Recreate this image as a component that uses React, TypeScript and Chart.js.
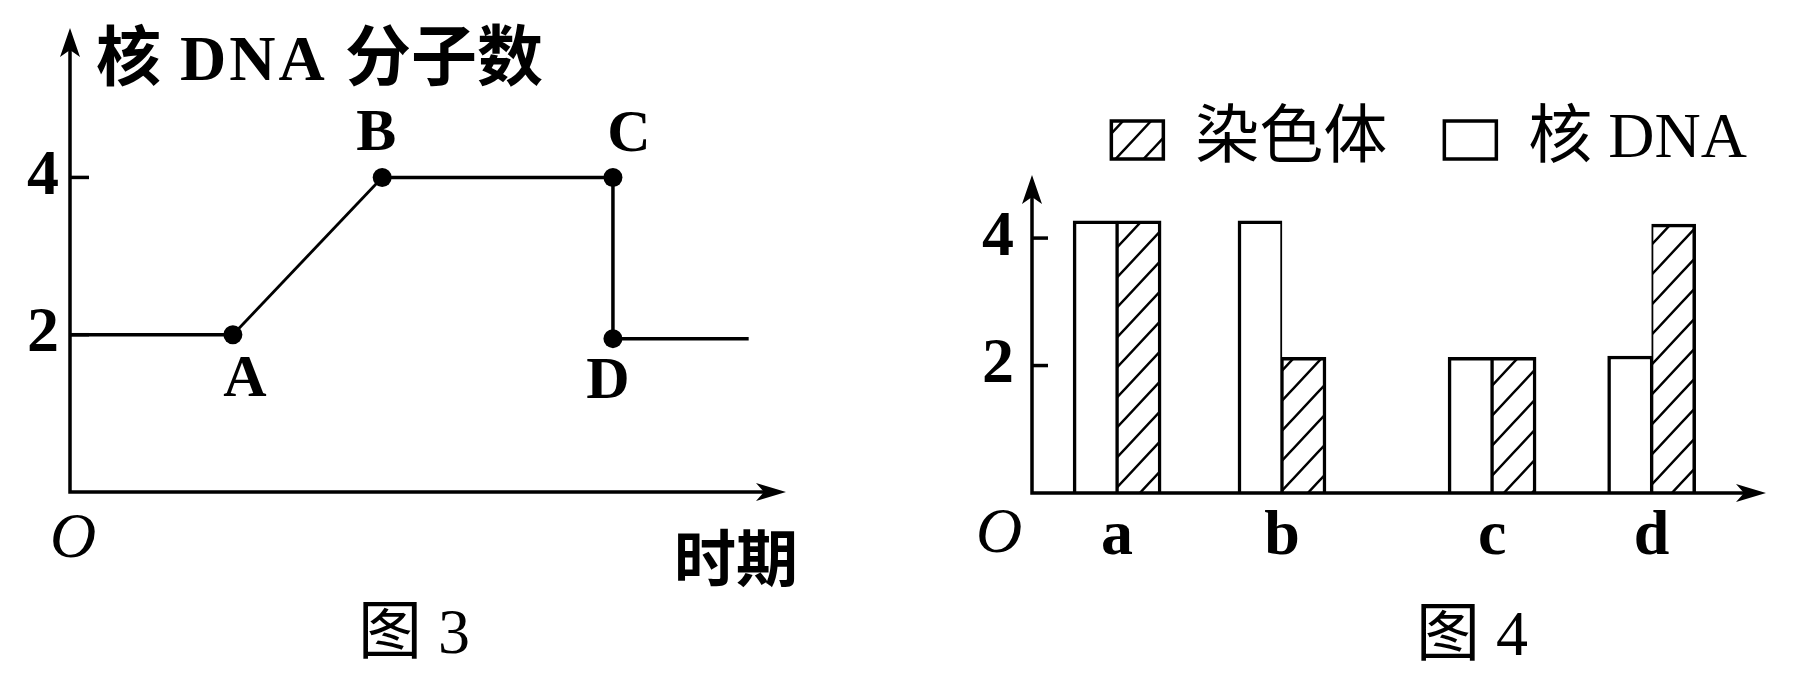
import React, { useEffect, useRef } from 'react';
import { Chart, registerables } from 'chart.js';

Chart.register(...registerables);

// ---------- 图 3 : 核 DNA 分子数 随 时期 变化 ----------
const fig3Time = [0, 2.4, 4.6, 8, 8, 10];
const fig3Dna = [2, 2, 4, 4, 1.95, 1.95];
const fig3PointLabels = ['', 'A', 'B', 'C', 'D', ''];
const fig3YTicks = [2, 4];
const fig3TitleParts = ['核', 'DNA', '分子数'];
const fig3XTitle = '时期';
const fig3Caption = '图 3';

// ---------- 图 4 : 染色体 与 核 DNA ----------
const fig4Stages = ['a', 'b', 'c', 'd'];
const fig4StagePos = [1.6, 4.7, 8.65, 11.65];
const fig4Dna = [4.27, 4.27, 2.13, 2.15];
const fig4Chromosome = [4.27, 2.13, 2.13, 4.22];
const fig4YTicks = [2, 4];
const fig4SeriesNames = ['核 DNA', '染色体'];
const fig4Caption = '图 4';

const SERIF = "'Liberation Serif', 'Noto Sans CJK SC', serif";
const CJK = "'Noto Sans CJK SC', 'Liberation Serif', sans-serif";

function arrowUp(ctx: CanvasRenderingContext2D, x: number, tipY: number) {
  ctx.beginPath();
  ctx.moveTo(x, tipY);
  ctx.lineTo(x - 10, tipY + 29);
  ctx.lineTo(x, tipY + 22);
  ctx.lineTo(x + 10, tipY + 29);
  ctx.closePath();
  ctx.fill();
}

function arrowRight(ctx: CanvasRenderingContext2D, tipX: number, y: number) {
  ctx.beginPath();
  ctx.moveTo(tipX, y);
  ctx.lineTo(tipX - 30, y - 9);
  ctx.lineTo(tipX - 22, y);
  ctx.lineTo(tipX - 30, y + 9);
  ctx.closePath();
  ctx.fill();
}

function drawAxes(chart: any, tickLen: number, topExtra: number) {
  const ctx: CanvasRenderingContext2D = chart.ctx;
  const { left, right, top, bottom } = chart.chartArea;
  const tipY = top - topExtra;
  ctx.save();
  ctx.strokeStyle = '#000';
  ctx.fillStyle = '#000';
  ctx.lineWidth = 3.5;
  ctx.lineJoin = 'miter';
  ctx.beginPath();
  ctx.moveTo(left, tipY + 20);
  ctx.lineTo(left, bottom);
  ctx.lineTo(right - 20, bottom);
  ctx.stroke();
  arrowUp(ctx, left, tipY);
  arrowRight(ctx, right, bottom);
  const ys = chart.scales.y;
  ys.ticks.forEach((t: any) => {
    const py = ys.getPixelForValue(t.value);
    ctx.beginPath();
    ctx.moveTo(left, py);
    ctx.lineTo(left + tickLen, py);
    ctx.stroke();
  });
  ctx.restore();
}

function text(
  ctx: CanvasRenderingContext2D,
  s: string,
  x: number,
  y: number,
  font: string,
  align: CanvasTextAlign,
  baseline: CanvasTextBaseline,
  spacing = 0
) {
  ctx.save();
  ctx.fillStyle = '#000';
  ctx.font = font;
  ctx.textAlign = align;
  ctx.textBaseline = baseline;
  if (spacing) (ctx as any).letterSpacing = `${spacing}px`;
  ctx.fillText(s, x, y);
  ctx.restore();
}

const labelOffsets: Record<string, [number, number]> = {
  A: [12, 46],
  B: [-6, -43],
  C: [16, -42],
  D: [-5, 44],
};

const fig3Plugin = {
  id: 'fig3Decor',
  afterDraw(chart: any) {
    const ctx: CanvasRenderingContext2D = chart.ctx;
    drawAxes(chart, 19, 0);
    const meta = chart.getDatasetMeta(0);
    meta.data.forEach((pt: any, i: number) => {
      const lab = fig3PointLabels[i];
      if (!lab) return;
      const off = labelOffsets[lab];
      text(ctx, lab, pt.x + off[0], pt.y + off[1], `bold 60px ${SERIF}`, 'center', 'middle');
    });
    const { left, bottom } = chart.chartArea;
    text(ctx, fig3TitleParts[0], 96, 80, `bold 65px ${CJK}`, 'left', 'alphabetic');
    text(ctx, fig3TitleParts[1], 180, 80, `bold 64px ${SERIF}`, 'left', 'alphabetic', 3);
    text(ctx, fig3TitleParts[2], 345, 80, `bold 66px ${CJK}`, 'left', 'alphabetic');
    text(ctx, 'O', left + 3, bottom + 48, `italic 64px ${SERIF}`, 'center', 'middle');
    text(ctx, fig3XTitle, 674, 558, `bold 62px ${CJK}`, 'left', 'middle');
    text(ctx, fig3Caption, 414, 636, `64px ${SERIF}`, 'center', 'middle');
  },
};

const fig4Plugin = {
  id: 'fig4Decor',
  afterDraw(chart: any) {
    const ctx: CanvasRenderingContext2D = chart.ctx;
    drawAxes(chart, 16, 7);
    const { left, bottom } = chart.chartArea;
    text(ctx, 'O', left - 33, bottom + 42, `italic 64px ${SERIF}`, 'center', 'middle');
    text(ctx, fig4Caption, 572, 638, `64px ${SERIF}`, 'center', 'middle');
  },
};

function makeHatch(): CanvasPattern | string {
  const w = 28;
  const h = 30;
  const c = document.createElement('canvas');
  c.width = w;
  c.height = h;
  const g = c.getContext('2d');
  if (!g) return '#fff';
  g.fillStyle = '#fff';
  g.fillRect(0, 0, w, h);
  g.strokeStyle = '#000';
  g.lineWidth = 2.5;
  g.beginPath();
  g.moveTo(-w * 0.1, h * 1.1);
  g.lineTo(w * 1.1, -h * 0.1);
  g.moveTo(-w * 0.1, h * 0.1);
  g.lineTo(w * 0.1, -h * 0.1);
  g.moveTo(w * 0.9, h * 1.1);
  g.lineTo(w * 1.1, h * 0.9);
  g.stroke();
  return g.createPattern(c, 'repeat') || '#fff';
}

export default function App() {
  const ref3 = useRef<HTMLCanvasElement>(null);
  const ref4 = useRef<HTMLCanvasElement>(null);

  useEffect(() => {
    const c3 = new Chart(ref3.current as HTMLCanvasElement, {
      type: 'line',
      data: {
        datasets: [
          {
            label: fig3TitleParts.join(' '),
            data: fig3Time.map((t, i) => ({ x: t, y: fig3Dna[i] })),
            borderColor: '#000',
            borderWidth: 3.5,
            tension: 0,
            fill: false,
            segment: {
              borderWidth: (s: any) => (s.p0.parsed.x !== s.p1.parsed.x && s.p0.parsed.y !== s.p1.parsed.y ? 2.8 : 3.5),
            },
            pointBackgroundColor: '#000',
            pointBorderWidth: 0,
            pointRadius: (c: any) => (fig3PointLabels[c.dataIndex] ? 9.5 : 0),
          },
        ],
      } as any,
      options: {
        animation: false,
        responsive: false,
        devicePixelRatio: 1,
        layout: { padding: { left: 0, top: 28, right: 114, bottom: 182 } },
        plugins: { legend: { display: false }, tooltip: { enabled: false } },
        scales: {
          x: { type: 'linear', min: 0, max: 10.55, display: false },
          y: {
            type: 'linear',
            min: 0,
            max: 5.9,
            afterBuildTicks: (s: any) => {
              s.ticks = fig3YTicks.map((v) => ({ value: v }));
            },
            afterFit: (s: any) => {
              s.width = 70;
              s.paddingTop = 0;
              s.paddingBottom = 0;
            },
            grid: { display: false, drawTicks: false },
            border: { display: false },
            ticks: { padding: 11, color: '#000', font: { family: SERIF, size: 64, weight: 'bold' } },
          },
        },
      } as any,
      plugins: [fig3Plugin],
    });

    const hatch = makeHatch();
    const c4 = new Chart(ref4.current as HTMLCanvasElement, {
      type: 'bar',
      data: {
        datasets: [
          {
            label: fig4SeriesNames[0],
            data: fig4StagePos.map((x, i) => ({ x, y: fig4Dna[i] })),
            backgroundColor: '#fff',
            borderColor: '#000',
            borderWidth: { top: 3.5, left: 3.5, right: 2, bottom: 0 },
            borderSkipped: 'start',
            barThickness: 44,
          },
          {
            label: fig4SeriesNames[1],
            data: fig4StagePos.map((x, i) => ({ x, y: fig4Chromosome[i] })),
            backgroundColor: hatch,
            borderColor: '#000',
            borderWidth: { top: 3.5, left: 2, right: 3.5, bottom: 0 },
            borderSkipped: 'start',
            barThickness: 44,
          },
        ],
      } as any,
      options: {
        animation: false,
        responsive: false,
        devicePixelRatio: 1,
        layout: { padding: { left: 0, top: 51, right: 0, bottom: 61 } },
        plugins: {
          tooltip: { enabled: false },
          legend: {
            display: true,
            position: 'top',
            align: 'end',
            reverse: true,
            labels: {
              boxWidth: 52,
              boxHeight: 38,
              padding: 57,
              color: '#000',
              font: { family: SERIF, size: 64 },
              generateLabels: (chart: any) =>
                (Chart.defaults.plugins.legend.labels.generateLabels as any)(chart).map((it: any) => ({
                  ...it,
                  lineWidth: 3.5,
                  strokeStyle: '#000',
                })),
            },
          },
        },
        scales: {
          x: {
            type: 'linear',
            min: 0,
            max: 13.8,
            offset: false,
            afterBuildTicks: (s: any) => {
              s.ticks = fig4StagePos.map((v) => ({ value: v }));
            },
            afterFit: (s: any) => {
              s.height = 120;
              s.paddingLeft = 0;
              s.paddingRight = 38;
            },
            grid: { display: false, drawTicks: false },
            border: { display: false },
            ticks: {
              padding: 6,
              color: '#000',
              autoSkip: false,
              maxRotation: 0,
              font: { family: SERIF, size: 64, weight: 'bold' },
              callback: (_v: any, i: number) => fig4Stages[i],
            },
          },
          y: {
            type: 'linear',
            min: 0,
            max: 4.88,
            afterBuildTicks: (s: any) => {
              s.ticks = fig4YTicks.map((v) => ({ value: v }));
            },
            afterFit: (s: any) => {
              s.width = 132;
              s.paddingTop = 0;
              s.paddingBottom = 0;
            },
            grid: { display: false, drawTicks: false },
            border: { display: false },
            ticks: { padding: 18, color: '#000', font: { family: SERIF, size: 64, weight: 'bold' } },
          },
        },
      } as any,
      plugins: [fig4Plugin],
    });

    return () => {
      c3.destroy();
      c4.destroy();
    };
  }, []);

  return (
    <div style={{ position: 'absolute', left: 0, top: 0, width: 1804, height: 674, background: '#fff', overflow: 'hidden' }}>
      <canvas ref={ref3} width={900} height={674} style={{ position: 'absolute', left: 0, top: 0 }} />
      <canvas ref={ref4} width={904} height={674} style={{ position: 'absolute', left: 900, top: 0 }} />
    </div>
  );
}
